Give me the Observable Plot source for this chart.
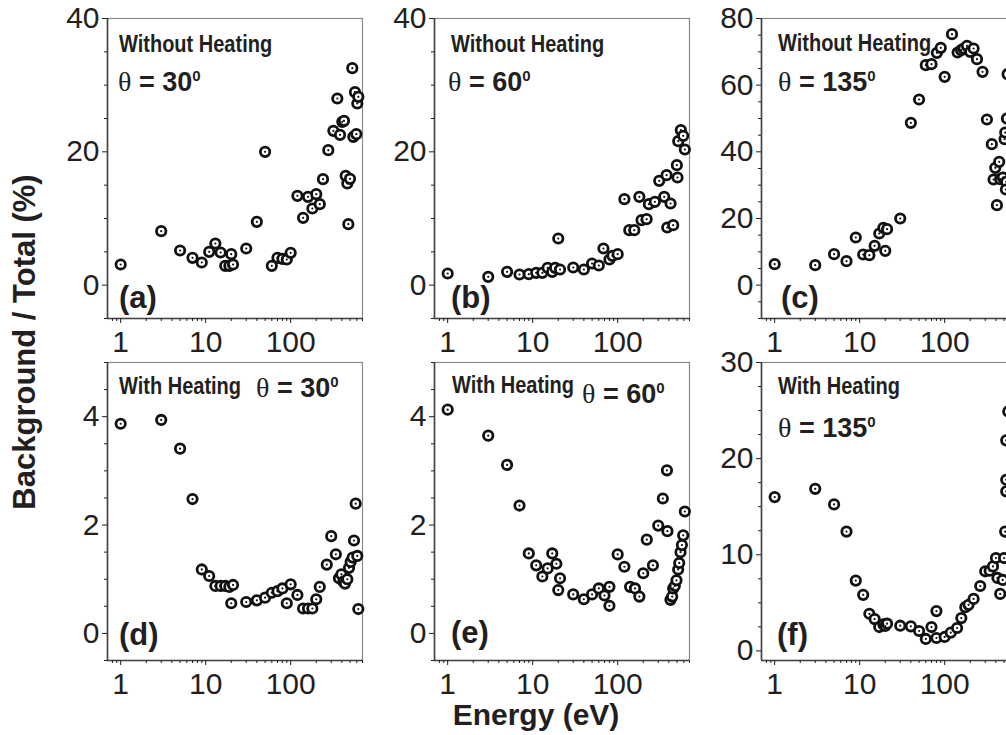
<!DOCTYPE html>
<html>
<head>
<meta charset="utf-8">
<script src="https://cdn.jsdelivr.net/npm/d3@7"></script>
<script src="https://cdn.jsdelivr.net/npm/@observablehq/plot@0.6"></script>
<style>
  html, body { margin: 0; padding: 0; background: white; overflow: hidden; }
  #chart { position: relative; width: 1006px; height: 735px; overflow: hidden; background: white; }
  #chart svg { position: absolute; }
</style>
</head>
<body>
<div id="chart"></div>
<script>
// ---------- data ----------
const xTicks = [1, 10, 100];
const xMinor = [0.8, 0.9, 2, 3, 4, 5, 6, 7, 8, 9, 20, 30, 40, 50, 60, 70, 80, 90, 200, 300, 400, 500, 600, 700];

// (a) Without heating, theta = 30
const eA = [1,3,5,7,9,11,13,15,17,19,20,21,30,40,50,60,70,80,90,100,120,140,160,180,200,220,240,277,318,354,381,405,424,444,464,477,499,531,546,571,592,608,625];
const vA = [3.1,8.1,5.2,4.1,3.4,5.0,6.25,4.9,2.9,2.9,4.65,3.1,5.5,9.5,20,2.9,4.1,3.95,3.85,4.85,13.4,10.1,13.25,11.5,13.65,12.15,15.9,20.25,23.15,28,22.55,24.5,24.65,16.4,15.25,9.15,15.95,32.55,22.25,28.95,22.65,27.25,28.25];
// (b) Without heating, theta = 60
const eB = [1,3,5,7,9,11,13,15,17,18.4,20,21,30,40,50,60,68,80,87,100,120,137,157,180,191,219,233,274,308,353,376,383,419,450,497,506,516,554,590,617];
const vB = [1.75,1.25,2.0,1.6,1.65,1.85,1.85,2.6,2.0,2.6,7.0,2.35,2.65,2.35,3.25,2.95,5.5,3.85,4.4,4.65,12.9,8.25,8.25,13.25,9.75,9.9,12.15,12.5,15.65,13.25,16.5,8.65,12.25,9.0,18.0,16.15,21.6,23.25,22.4,20.35];
// (c) Without heating, theta = 135
const eC = [1,3,5,7,9,11,13,15,17,19,20,21,30,40,50,60,70,81,90,100,122,142,156,167,183,200,219,240,279,314,359,376,394,412,438,450,484,507,516,530,525,540,550];
const vC = [6.3,6.0,9.3,7.2,14.3,9.2,9.0,11.8,15.5,17.2,10.3,16.8,20.0,48.7,55.7,66,66.3,69.7,71.2,62.5,75.3,69.8,70.5,71,71.8,70,71,67.8,64,49.7,42.3,31.7,35.2,24,37,31.8,32.3,43.8,45.8,31,28.7,50,63.3];
// (d) With heating, theta = 30
const eD = [1,3,5,7,9,11,13,15,17,19,21,20,30,40,50,60,70,80,90,100,120,140,160,180,200,220,266,300,340,370,395,417,436,464,486,508,536,556,582,608,625];
const vD = [3.87,3.94,3.41,2.48,1.18,1.06,0.876,0.876,0.876,0.858,0.894,0.557,0.58,0.61,0.66,0.75,0.78,0.83,0.557,0.906,0.71,0.46,0.46,0.46,0.63,0.858,1.27,1.795,1.46,1.017,1.09,0.956,0.92,1.0,1.21,1.32,1.40,1.715,2.395,1.43,0.45];
// (e) With heating, theta = 60
const eE = [1,3,5,7,9,11,13,15,17,19,20,21,30,40,50,60,70,80,80,100,120,140,160,180,200,220,260,300,340,380,385,418,438,450,470,492,515,530,549,570,590,617];
const vE = [4.13,3.65,3.11,2.36,1.476,1.256,1.05,1.2,1.476,1.286,0.80,1.017,0.72,0.63,0.72,0.83,0.70,0.86,0.51,1.458,1.23,0.86,0.83,0.68,1.11,1.73,1.256,1.99,2.49,3.01,1.887,0.62,0.68,0.83,0.876,0.98,1.18,1.30,1.50,1.63,1.81,2.25];
// (f) With heating, theta = 135
const eF = [1,3,5,7,9,11,13,15,17,19,20,21,30,40,50,60,70,80,80,100,118,140,157,175,191,219,262,300,338,370,401,418,450,482,500,515,530,530,530,560];
const vF = [16.0,16.86,15.24,12.41,7.31,5.83,3.86,3.31,2.48,2.76,2.59,2.83,2.62,2.55,2.07,1.24,2.48,4.14,1.34,1.45,1.90,2.38,3.41,4.55,4.79,5.41,6.75,8.28,8.34,8.79,9.66,7.59,5.93,7.38,9.66,12.41,16.6,17.8,21.9,24.9];

const yTicksAB = [0, 20, 40];
const yMinorAB = [-5, 5, 10, 15, 25, 30, 35];
const yTicksC = [0, 20, 40, 60, 80];
const yMinorC = [-10, -5, 5, 10, 15, 25, 30, 35, 45, 50, 55, 65, 70, 75];
const yTicksDE = [0, 2, 4];
const yMinorDE = [-0.5, 0.5, 1, 1.5, 2.5, 3, 3.5, 4.5, 5];
const yTicksF = [0, 10, 20, 30];
const yMinorF = [2.5, 5, 7.5, 12.5, 15, 17.5, 22.5, 25, 27.5];

const headings = ["Without Heating", "Without Heating", "Without Heating", "With Heating", "With Heating", "With Heating"];
const angles = ["30", "60", "135", "30", "60", "135"];
const letters = ["(a)", "(b)", "(c)", "(d)", "(e)", "(f)"];
const yTitle = "Background / Total (%)";
const xTitle = "Energy (eV)";

// ---------- layout ----------
const mL = 70, mR = 20, mT = 20, mB = 50;
const frameW = 255;
const panels = [
  {E: eA, V: vA, yDomain: [-5, 40], yTicks: yTicksAB, yMinor: yMinorAB, left: 107, top: 18, h: 300,
   head: [119, 51.5], theta: [118, 90.5], letter: [119, 308]},
  {E: eB, V: vB, yDomain: [-5, 40], yTicks: yTicksAB, yMinor: yMinorAB, left: 434, top: 18, h: 300,
   head: [451, 51.5], theta: [448, 90.5], letter: [451, 308]},
  {E: eC, V: vC, yDomain: [-10, 80], yTicks: yTicksC, yMinor: yMinorC, left: 761, top: 18, h: 300,
   head: [778, 50.5], theta: [778, 91], letter: [781, 308]},
  {E: eD, V: vD, yDomain: [-0.5, 5], yTicks: yTicksDE, yMinor: yMinorDE, left: 107, top: 362, h: 298,
   head: [119, 394], theta: [256, 397], letter: [119, 645]},
  {E: eE, V: vE, yDomain: [-0.5, 5], yTicks: yTicksDE, yMinor: yMinorDE, left: 434, top: 362, h: 298,
   head: [452, 393], theta: [582, 403], letter: [451, 643]},
  {E: eF, V: vF, yDomain: [-1, 30], yTicks: yTicksF, yMinor: yMinorF, left: 761, top: 362, h: 298,
   head: [778, 394], theta: [778, 437], letter: [777, 645]}
];

const chart = document.getElementById("chart");
const ink = "#231f20";
const fontSans = "'Liberation Sans', Arial, Helvetica, sans-serif";

panels.forEach((p, i) => {
  const data = p.E.map((e, k) => ({E: e, v: p.V[k]}));
  const svg = Plot.plot({
    width: frameW + mL + mR,
    height: p.h + mT + mB,
    marginLeft: mL, marginRight: mR, marginTop: mT, marginBottom: mB,
    style: `background: transparent; overflow: visible; max-width: none; font-family: ${fontSans}; color: ${ink};`,
    x: {type: "log", domain: [0.7, 700], label: null},
    y: {domain: p.yDomain, label: null},
    marks: [
      Plot.frame({stroke: "#8a8a8a", strokeWidth: 1.2}),
      Plot.ruleX([0.7], {stroke: "#444", strokeWidth: 1.6}),
      Plot.ruleY([p.yDomain[0]], {stroke: "#444", strokeWidth: 1.6}),
      Plot.axisX({ticks: xTicks, tickFormat: d => String(d), tickSize: 5, tickPadding: 7, fontSize: 30, label: null}),
      Plot.axisX({ticks: xMinor, tickFormat: () => "", tickSize: 3, label: null}),
      Plot.axisY({ticks: p.yTicks, tickFormat: d => String(d), tickSize: 5, tickPadding: 3, fontSize: 30, label: null}),
      Plot.axisY({ticks: p.yMinor, tickFormat: () => "", tickSize: 3, label: null}),
      Plot.dot(data, {x: "E", y: "v", r: 4.7, stroke: "#111", strokeWidth: 2.8, fill: "white"}),
      Plot.dot(data, {x: "E", y: "v", r: 1.1, fill: "#111"})
    ]
  });
  svg.style.left = (p.left - mL) + "px";
  svg.style.top = (p.top - mT) + "px";
  chart.appendChild(svg);
});

// ---------- annotation overlay ----------
const ov = d3.create("svg")
  .attr("width", 1006).attr("height", 735)
  .style("left", "0px").style("top", "0px")
  .style("pointer-events", "none")
  .attr("font-family", fontSans)
  .attr("fill", ink);

panels.forEach((p, i) => {
  ov.append("text")
    .attr("transform", `translate(${p.head[0]},${p.head[1]}) scale(0.87,1)`)
    .attr("font-weight", "bold").attr("font-size", 23)
    .text(headings[i]);
  const t = ov.append("text").attr("x", p.theta[0]).attr("y", p.theta[1]);
  t.append("tspan").attr("font-family", "'Liberation Serif', 'Times New Roman', serif")
    .attr("font-size", 28).text("θ");
  t.append("tspan").attr("font-weight", "bold").attr("font-size", 27).text(" = " + angles[i]);
  t.append("tspan").attr("font-weight", "bold").attr("font-size", 15).attr("dy", -10).text("0");
  ov.append("text")
    .attr("x", p.letter[0]).attr("y", p.letter[1])
    .attr("font-weight", "bold").attr("font-size", 31)
    .text(letters[i]);
});

ov.append("text")
  .attr("transform", "translate(35,342) rotate(-90)")
  .attr("text-anchor", "middle")
  .attr("font-weight", "bold").attr("font-size", 31)
  .text(yTitle);

ov.append("text")
  .attr("x", 536).attr("y", 725)
  .attr("text-anchor", "middle")
  .attr("font-weight", "bold").attr("font-size", 30)
  .text(xTitle);

chart.appendChild(ov.node());
</script>
</body>
</html>
